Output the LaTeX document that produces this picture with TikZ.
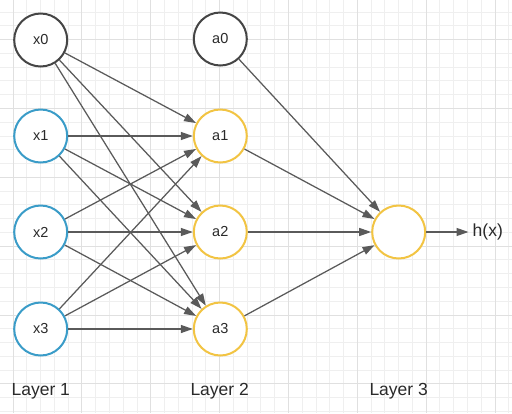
\documentclass[tikz,border=0pt]{standalone}
\usepackage{fontspec}
\setmainfont{Liberation Sans}
\usetikzlibrary{arrows.meta}
\definecolor{gridminor}{HTML}{EFEFEF}
\definecolor{gridmajor}{HTML}{E0E0E0}
\definecolor{nodegray}{HTML}{454545}
\definecolor{nodeblue}{HTML}{3A9CC8}
\definecolor{nodeyellow}{HTML}{F2C443}
\definecolor{edgegray}{HTML}{5A5A5A}
\definecolor{textgray}{HTML}{2A2A2A}
\tikzset{
  neuron/.style={circle, line width=2pt, minimum size=53pt, inner sep=0pt, fill=white,
    text=textgray, font=\fontsize{14.5}{17}\selectfont},
  biasnode/.style={neuron, draw=nodegray},
  inputnode/.style={neuron, draw=nodeblue},
  hiddennode/.style={neuron, draw=nodeyellow},
  conn/.style={draw=edgegray, line width=1.25pt, -{Triangle[length=12pt,width=8pt]}},
  lbl/.style={text=textgray, font=\fontsize{17.5}{20}\selectfont, inner sep=0pt}
}
\begin{document}
\begin{tikzpicture}[x=1pt,y=-1pt]
\useasboundingbox (0,0) rectangle (512,413);
\fill[white] (0,0) rectangle (512,413);
% grid
\foreach \k in {0,...,36} {
  \pgfmathsetmacro{\gx}{13+13.77*\k}
  \draw[gridminor, line width=0.8pt] (\gx,0) -- (\gx,413);
}
\foreach \k in {0,...,29} {
  \pgfmathsetmacro{\gy}{12+13.77*\k}
  \draw[gridminor, line width=0.8pt] (0,\gy) -- (512,\gy);
}
\foreach \k in {0,5,...,35} {
  \pgfmathsetmacro{\gx}{13+13.77*\k}
  \draw[gridmajor, line width=0.8pt] (\gx,0) -- (\gx,413);
}
\foreach \k in {2,7,...,27} {
  \pgfmathsetmacro{\gy}{12+13.77*\k}
  \draw[gridmajor, line width=0.8pt] (0,\gy) -- (512,\gy);
}
% nodes
\node[biasnode] (x0) at (40.7,40) {x0};
\node[inputnode] (x1) at (40.7,136) {x1};
\node[inputnode] (x2) at (40.7,232) {x2};
\node[inputnode] (x3) at (40.7,329) {x3};
\node[biasnode] (a0) at (220.3,39) {a0};
\node[hiddennode] (a1) at (220.3,136) {a1};
\node[hiddennode] (a2) at (220.3,232) {a2};
\node[hiddennode] (a3) at (220.3,329) {a3};
\node[hiddennode] (out) at (398.7,232) {};
\node[lbl, anchor=west] (hx) at (472.5,232) {h(x)};
\coordinate (hxend) at (468.5,232);
% connectors
\foreach \i in {x0,x1,x2,x3} {
  \foreach \j in {a1,a2,a3} {
    \draw[conn] (\i) -- (\j);
  }
}
\foreach \j in {a0,a1,a2,a3} {
  \draw[conn] (\j) -- (out);
}
\draw[conn] (out) -- (hxend);
% layer labels
\node[lbl, anchor=base] (l1) at (40.8,395) {Layer 1};
\node[lbl, anchor=base] (l2) at (219.7,395) {Layer 2};
\node[lbl, anchor=base] (l3) at (398.7,395) {Layer 3};
\end{tikzpicture}
\end{document}
